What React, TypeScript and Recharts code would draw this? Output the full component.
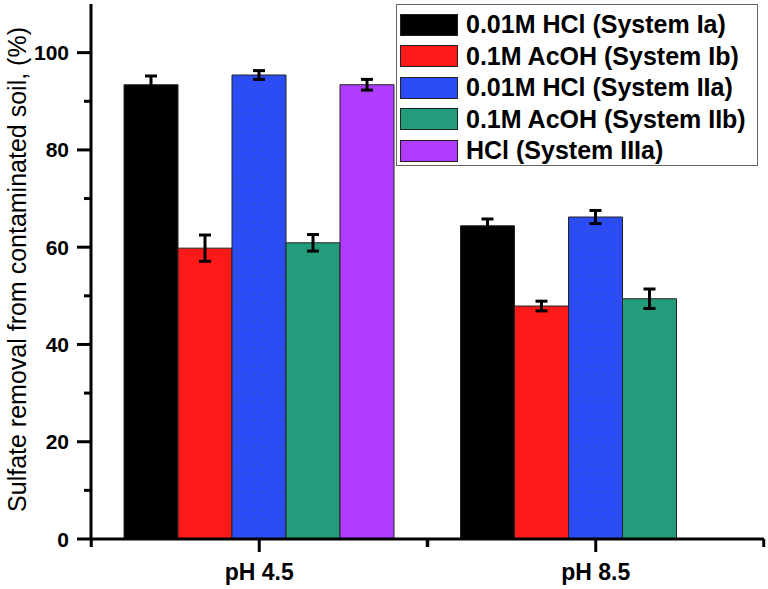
import React from 'react';
import { BarChart, Bar, XAxis, YAxis, ErrorBar, Legend } from 'recharts';

// categories and series values
const categories = ['pH 4.5', 'pH 8.5'];
const seriesKeys = ['ia', 'ib', 'iia', 'iib', 'iiia'];
const seriesNames = [
    '0.01M HCl (System Ia)',
    '0.1M AcOH (System Ib)',
    '0.01M HCl (System IIa)',
    '0.1M AcOH (System IIb)',
    'HCl (System IIIa)'
];
const seriesColors = ['#000000', '#ff1a1a', '#2b4cf6', '#229c7b', '#b03cff'];

const sysIa = [93.4, 64.4];
const sysIb = [59.8, 47.9];
const sysIIa = [95.4, 66.2];
const sysIIb = [60.9, 49.4];
const sysIIIa = [93.4, null];

const errIa = [1.8, 1.4];
const errIb = [2.7, 1.0];
const errIIa = [0.9, 1.35];
const errIIb = [1.7, 2.0];
const errIIIa = [1.1, null];

const yTicks = [0, 10, 20, 30, 40, 50, 60, 70, 80, 90, 100];

const values = [sysIa, sysIb, sysIIa, sysIIb, sysIIIa];
const errors = [errIa, errIb, errIIa, errIIb, errIIIa];

const data = categories.map((name, i) => {
    const row: any = { name };
    seriesKeys.forEach((k, s) => {
        row[k] = values[s][i];
        row[k + 'Err'] = errors[s][i];
    });
    return row;
});

const FONT = '"Liberation Sans", Arial, sans-serif';

const YTick = ({ x, y, payload }: any) => {
    const major = payload.value % 20 === 0;
    return (
        <g>
            <line x1={x - (major ? 14 : 7)} x2={x} y1={y} y2={y} stroke="#000" strokeWidth={3} />
            {major && (
                <text x={x - 22} y={y} dy="0.36em" textAnchor="end" fontFamily={FONT} fontWeight="bold" fontSize={21} fill="#000">
                    {payload.value}
                </text>
            )}
        </g>
    );
};

const XTick = ({ x, y, payload }: any) => (
    <g>
        <line x1={x} x2={x} y1={y} y2={y + 13} stroke="#000" strokeWidth={3} />
        <line x1={x - 168} x2={x - 168} y1={y} y2={y + 8} stroke="#000" strokeWidth={3} />
        <line x1={x + 168} x2={x + 168} y1={y} y2={y + 8} stroke="#000" strokeWidth={3} />
        <text x={x} y={y + 41} textAnchor="middle" fontFamily={FONT} fontWeight="bold" fontSize={23} fill="#000">
            {payload.value}
        </text>
    </g>
);

const YLabel = ({ viewBox }: any) => {
    const cx = 17;
    const cy = viewBox.y + viewBox.height / 2 - 2;
    return (
        <text
            x={cx}
            y={cy}
            transform={`rotate(-90, ${cx}, ${cy})`}
            textAnchor="middle"
            dy="0.35em"
            fontFamily={FONT}
            fontSize={25}
            fill="#000"
        >
            Sulfate removal from contaminated soil, (%)
        </text>
    );
};

const LegendBox = () => (
    <div
        style={{
            border: '1.5px solid #666',
            background: '#fff',
            padding: '4px 0 3px 3px',
            fontFamily: FONT,
            boxSizing: 'border-box',
            width: 362,
            height: 162
        }}
    >
        {seriesNames.map((name, i) => (
            <div key={name} style={{ display: 'flex', alignItems: 'center', height: 31.5 }}>
                <div
                    style={{
                        width: 58,
                        height: 22,
                        background: seriesColors[i],
                        border: '1.5px solid #222',
                        boxSizing: 'border-box',
                        marginRight: 8
                    }}
                />
                <span style={{ fontWeight: 'bold', fontSize: 25, color: '#000', whiteSpace: 'nowrap' }}>{name}</span>
            </div>
        ))}
    </div>
);

export default function App() {
    return (
        <div style={{ position: 'absolute', left: 0, top: 0, background: '#fff' }}>
            <BarChart
                width={768}
                height={589}
                data={data}
                margin={{ top: 4, right: 4, bottom: 0, left: 0 }}
                barCategoryGap={33}
                barGap={0}
            >
                <defs>
                    <pattern id="blueDots" width="9" height="9" patternUnits="userSpaceOnUse">
                        <rect width="9" height="9" fill="#2b4cf6" />
                        <circle cx="2" cy="6" r="0.6" fill="#2f6b3a" />
                    </pattern>
                </defs>
                <XAxis
                    dataKey="name"
                    height={50}
                    axisLine={{ stroke: '#000', strokeWidth: 3 }}
                    tickLine={false}
                    tickSize={0}
                    tickMargin={0}
                    tick={<XTick />}
                    interval={0}
                />
                <XAxis xAxisId="top" dataKey="name" orientation="top" height={0} tick={false} tickLine={false} axisLine={{ stroke: '#333', strokeWidth: 1.5 }} />
                <YAxis
                    width={91}
                    domain={[0, 110]}
                    ticks={yTicks}
                    interval={0}
                    axisLine={{ stroke: '#000', strokeWidth: 3 }}
                    tickLine={false}
                    tickSize={0}
                    tickMargin={0}
                    tick={<YTick />}
                    label={<YLabel />}
                />
                <YAxis yAxisId="right" orientation="right" width={0} domain={[0, 110]} tick={false} tickLine={false} axisLine={{ stroke: '#333', strokeWidth: 1.5 }} />
                <Legend
                    layout="horizontal"
                    verticalAlign="middle"
                    align="center"
                    content={<LegendBox />}
                    wrapperStyle={{ position: 'absolute', left: 396, top: 4, width: 362, height: 162 }}
                />
                {seriesKeys.map((k, i) => (
                    <Bar
                        key={k}
                        dataKey={k}
                        name={seriesNames[i]}
                        fill={k === 'iia' ? 'url(#blueDots)' : seriesColors[i]}
                        stroke="#222"
                        strokeWidth={1}
                        isAnimationActive={false}
                    >
                        <ErrorBar dataKey={k + 'Err'} width={6} stroke="#000" strokeWidth={3} />
                    </Bar>
                ))}
            </BarChart>
        </div>
    );
}
